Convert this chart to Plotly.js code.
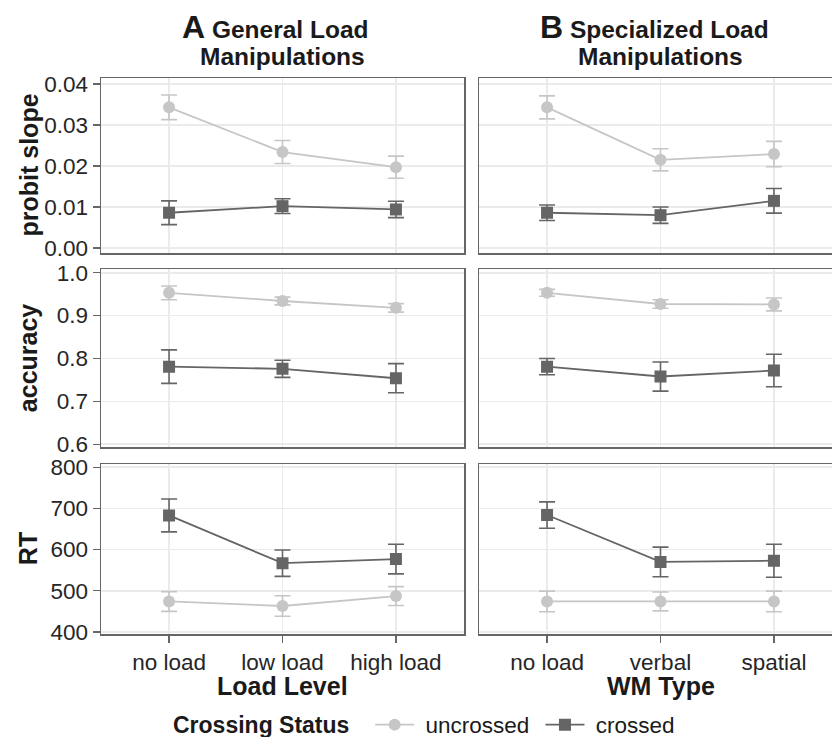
<!DOCTYPE html>
<html>
<head>
<meta charset="utf-8">
<script src="https://cdn.plot.ly/plotly-3.0.1.min.js"></script>
<style>
html, body { margin: 0; padding: 0; background: #fff; overflow: hidden; width: 832px; height: 737px; }
#chart { width: 860px; height: 760px; }
</style>
</head>
<body>
<div id="chart"></div>
<script>
// ---- data ----
const loadLevels = ['no load', 'low load', 'high load'];
const wmTypes = ['no load', 'verbal', 'spatial'];
const seriesNames = ['uncrossed', 'crossed'];

const slopeGenUncrossed = [0.0343, 0.0234, 0.0197];
const slopeGenUncrossedErr = [0.0030, 0.0028, 0.0027];
const slopeGenCrossed = [0.0086, 0.0102, 0.0094];
const slopeGenCrossedErr = [0.0029, 0.0018, 0.0020];
const slopeSpecUncrossed = [0.0343, 0.0215, 0.0229];
const slopeSpecUncrossedErr = [0.0028, 0.0027, 0.0031];
const slopeSpecCrossed = [0.0086, 0.0080, 0.0115];
const slopeSpecCrossedErr = [0.0019, 0.0020, 0.0030];

const accGenUncrossed = [0.953, 0.934, 0.918];
const accGenUncrossedErr = [0.016, 0.009, 0.010];
const accGenCrossed = [0.781, 0.776, 0.754];
const accGenCrossedErr = [0.039, 0.020, 0.034];
const accSpecUncrossed = [0.953, 0.927, 0.926];
const accSpecUncrossedErr = [0.008, 0.010, 0.015];
const accSpecCrossed = [0.781, 0.758, 0.772];
const accSpecCrossedErr = [0.019, 0.034, 0.038];

const rtGenUncrossed = [474, 463, 487];
const rtGenUncrossedErr = [24, 25, 23];
const rtGenCrossed = [683, 567, 577];
const rtGenCrossedErr = [40, 32, 36];
const rtSpecUncrossed = [474, 474, 474];
const rtSpecUncrossedErr = [25, 23, 25];
const rtSpecCrossed = [684, 570, 573];
const rtSpecCrossedErr = [32, 36, 40];

const rowTitles = ['probit slope', 'accuracy', 'RT'];
const xTitles = ['Load Level', 'WM Type'];
const panelTitleLetters = ['A', 'B'];
const panelTitleLine1 = ['General Load', 'Specialized Load'];
const panelTitleLine2 = ['Manipulations', 'Manipulations'];
const legendTitle = 'Crossing Status';

// ---- styling / layout helpers ----
const W = 860, H = 760;
const px = x => x / W;
const py = y => 1 - y / H;
const FONT = 'Liberation Sans, Arial, Helvetica, sans-serif';
const colU = '#c6c6c6', colC = '#656565';
const NB = '\u00a0';

const colDomains = [[px(101), px(464)], [px(479), px(842)]];
const rowPx = [[78, 253], [269, 447.3], [464, 634.3]];
const rowDomains = rowPx.map(r => [py(r[1]), py(r[0])]);
const yRanges = [[-0.00122, 0.04146], [0.5930, 1.0086], [394.2, 808]];
const yTicks = [[0, 0.01, 0.02, 0.03, 0.04], [0.6, 0.7, 0.8, 0.9, 1.0], [400, 500, 600, 700, 800]];
const yFormats = ['.2f', '.1f', 'd'];

const panelData = [
  [[slopeGenUncrossed, slopeGenUncrossedErr, slopeGenCrossed, slopeGenCrossedErr],
   [slopeSpecUncrossed, slopeSpecUncrossedErr, slopeSpecCrossed, slopeSpecCrossedErr]],
  [[accGenUncrossed, accGenUncrossedErr, accGenCrossed, accGenCrossedErr],
   [accSpecUncrossed, accSpecUncrossedErr, accSpecCrossed, accSpecCrossedErr]],
  [[rtGenUncrossed, rtGenUncrossedErr, rtGenCrossed, rtGenCrossedErr],
   [rtSpecUncrossed, rtSpecUncrossedErr, rtSpecCrossed, rtSpecCrossedErr]]
];
const cats = [loadLevels, wmTypes];

const traces = [];
const layout = {
  width: W, height: H,
  margin: {l: 0, r: 0, t: 0, b: 0},
  paper_bgcolor: '#fff', plot_bgcolor: '#fff',
  font: {family: FONT, color: '#1a1a1a', size: 22.5},
  showlegend: true,
  legend: {
    orientation: 'h', x: px(171), xanchor: 'left', y: py(725), yanchor: 'middle',
    title: {text: '<b>' + legendTitle + '</b>' + NB + NB, font: {size: 23, color: '#1a1a1a'}, side: 'left'},
    font: {size: 22.5, color: '#1a1a1a'}, itemwidth: 39, bgcolor: 'rgba(0,0,0,0)'
  },
  annotations: []
};

let k = 0;
for (let r = 0; r < 3; r++) {
  for (let c = 0; c < 2; c++) {
    k++;
    const xa = k === 1 ? 'xaxis' : 'xaxis' + k;
    const ya = k === 1 ? 'yaxis' : 'yaxis' + k;
    const xref = k === 1 ? 'x' : 'x' + k;
    const yref = k === 1 ? 'y' : 'y' + k;
    const bottom = r === 2, left = c === 0;
    layout[xa] = {
      domain: colDomains[c], anchor: yref, type: 'category', categoryarray: cats[c],
      range: [-0.6, 2.6], showline: true, mirror: true, linecolor: '#666', linewidth: 1.5,
      showgrid: true, gridcolor: '#ebebeb', gridwidth: 1.8, zeroline: false,
      showticklabels: bottom, ticks: bottom ? 'outside' : '', ticklen: 7, tickwidth: 1.2, tickcolor: '#666',
      tickfont: {size: 22.5, color: '#262626'}, fixedrange: true
    };
    layout[ya] = {
      domain: rowDomains[r], anchor: xref, range: yRanges[r], tickvals: yTicks[r], tickformat: yFormats[r],
      showline: true, mirror: true, linecolor: '#666', linewidth: 1.5,
      showgrid: true, gridcolor: '#ebebeb', gridwidth: 1.8, zeroline: false,
      showticklabels: left, ticks: left ? 'outside' : '', ticklen: 7, tickwidth: 1.2, tickcolor: '#666',
      tickfont: {size: 22.5, color: '#262626'}, fixedrange: true
    };
    const d = panelData[r][c];
    traces.push({
      type: 'scatter', mode: 'lines+markers', name: NB + seriesNames[0] + NB, legendgroup: 'u',
      showlegend: k === 1, x: cats[c], y: d[0], xaxis: xref, yaxis: yref,
      line: {color: colU, width: 1.8}, marker: {color: colU, size: 12, symbol: 'circle'},
      error_y: {type: 'data', array: d[1], visible: true, color: colU, thickness: 1.6, width: 8}
    });
    traces.push({
      type: 'scatter', mode: 'lines+markers', name: NB + seriesNames[1], legendgroup: 'c',
      showlegend: k === 1, x: cats[c], y: d[2], xaxis: xref, yaxis: yref,
      line: {color: colC, width: 1.8}, marker: {color: colC, size: 12, symbol: 'square'},
      error_y: {type: 'data', array: d[3], visible: true, color: colC, thickness: 1.6, width: 8}
    });
  }
}

// Y titles
const rowCenters = rowPx.map(rr => (rr[0] + rr[1]) / 2);
rowTitles.forEach((t, i) => {
  layout.annotations.push({
    xref: 'paper', yref: 'paper', x: px(28), y: py(rowCenters[i]), xanchor: 'center', yanchor: 'middle',
    text: '<b>' + t + '</b>', textangle: -90, showarrow: false, font: {size: 25, color: '#1a1a1a'}
  });
});
// X titles
const colCenters = [282.5, 660.5];
xTitles.forEach((t, i) => {
  layout.annotations.push({
    xref: 'paper', yref: 'paper', x: px(colCenters[i]), y: py(686), xanchor: 'center', yanchor: 'middle',
    text: '<b>' + t + '</b>', showarrow: false, font: {size: 25, color: '#1a1a1a'}
  });
});
// Panel titles
const line1Centers = [275.3, 654];
for (let i = 0; i < 2; i++) {
  layout.annotations.push({
    xref: 'paper', yref: 'paper', x: px(line1Centers[i]), y: py(27), xanchor: 'center', yanchor: 'middle',
    text: '<b><span style="font-size:32px">' + panelTitleLetters[i] + '</span> ' + panelTitleLine1[i] + '</b>',
    showarrow: false, font: {size: 24.5, color: '#1a1a1a'}
  });
  layout.annotations.push({
    xref: 'paper', yref: 'paper', x: px(colCenters[i]), y: py(56), xanchor: 'center', yanchor: 'middle',
    text: '<b>' + panelTitleLine2[i] + '</b>', showarrow: false, font: {size: 24.5, color: '#1a1a1a'}
  });
}

Plotly.newPlot('chart', traces, layout, {displayModeBar: false, staticPlot: true});
</script>
</body>
</html>
